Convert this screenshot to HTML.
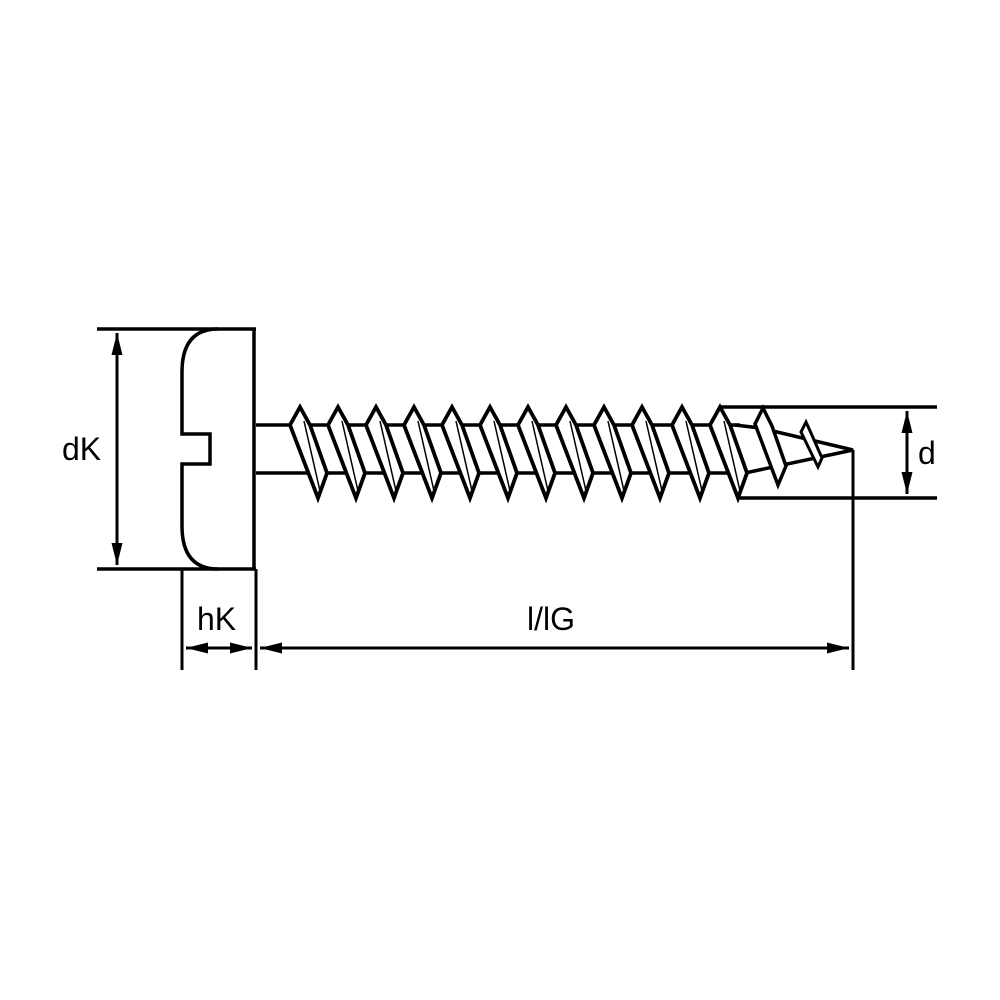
<!DOCTYPE html>
<html><head><style>body{margin:0;background:#fff}svg{display:block}</style></head><body>
<svg width="1000" height="1000" viewBox="0 0 1000 1000" xmlns="http://www.w3.org/2000/svg">
<defs>
<marker id="b" viewBox="0 0 20 10" refX="20" refY="5" markerWidth="22" markerHeight="13" orient="auto-start-reverse" markerUnits="userSpaceOnUse"><path d="M0,0 L20,5 L0,10 z" fill="#000"/></marker>
<g id="t"><path d="M0,0 L-10,18 L18,91 L27,66 L10,18 Z" fill="#fff" stroke="#000" stroke-width="3.8" stroke-linejoin="miter"/><path d="M4,14 L20,84" stroke="#000" stroke-width="1.5"/></g>
</defs>
<g fill="none" stroke="#000" stroke-width="3.5">
<line x1="97" y1="329" x2="256" y2="329"/>
<line x1="97" y1="569" x2="256" y2="569"/>
<line x1="254" y1="329" x2="254" y2="569"/>
<path d="M218,329 Q182,329 182,372 L182,434 L210,434 L210,464 L182,464 L182,526 Q182,569 218,569"/>
<line x1="256" y1="425" x2="740" y2="425"/>
<line x1="256" y1="473" x2="745" y2="473"/>
<path d="M735,425 L760,428 L853,450 L745,473"/>
<line x1="117" y1="333" x2="117" y2="565" stroke-width="3" marker-start="url(#b)" marker-end="url(#b)"/>
<line x1="182" y1="569" x2="182" y2="670" stroke-width="3"/>
<line x1="256" y1="569" x2="256" y2="670" stroke-width="3"/>
<line x1="853" y1="450" x2="853" y2="670" stroke-width="3"/>
<line x1="186" y1="648" x2="252" y2="648" stroke-width="3" marker-start="url(#b)" marker-end="url(#b)"/>
<line x1="260" y1="648" x2="849" y2="648" stroke-width="3" marker-start="url(#b)" marker-end="url(#b)"/>
<line x1="720" y1="407" x2="937" y2="407"/>
<line x1="737" y1="498" x2="937" y2="498"/>
<line x1="907" y1="411" x2="907" y2="494" stroke-width="3" marker-start="url(#b)" marker-end="url(#b)"/>
</g>
<use href="#t" x="300" y="407"/><use href="#t" x="338" y="407"/><use href="#t" x="376" y="407"/>
<use href="#t" x="414" y="407"/><use href="#t" x="452" y="407"/><use href="#t" x="490" y="407"/>
<use href="#t" x="528" y="407"/><use href="#t" x="566" y="407"/><use href="#t" x="604" y="407"/>
<use href="#t" x="642" y="407"/><use href="#t" x="682" y="407"/><use href="#t" x="720" y="407"/>
<path d="M763,408 L755,424 L778,485 L786,466 L772,426 Z" fill="#fff" stroke="#000" stroke-width="3.5"/>
<path d="M806,422 L801,432 L818,467 L822,458 L811,433 Z" fill="#fff" stroke="#000" stroke-width="3"/>
<g font-family="Liberation Sans, sans-serif" font-size="32" fill="#000">
<text x="62" y="460">dK</text>
<text x="197" y="630">hK</text>
<text x="527" y="630">l/lG</text>
<text x="918" y="464">d</text>
</g>
</svg>
</body></html>
